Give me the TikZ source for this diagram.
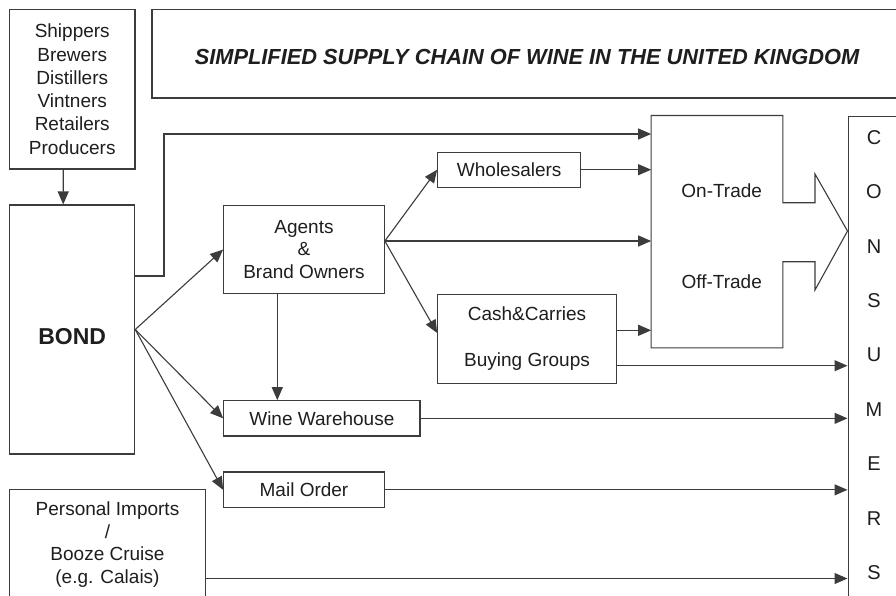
\documentclass[tikz,border=0pt]{standalone}
\usepackage{fontspec}
\setmainfont{Liberation Sans}
\usetikzlibrary{arrows.meta}
\definecolor{ln}{HTML}{3C3C3C}
\definecolor{tx}{HTML}{1E1E1E}
\tikzset{
  box/.style={draw=ln, line width=1.1pt, inner sep=0pt, text=tx, align=center, font=\fontsize{19}{23.3}\selectfont},
  plain/.style={inner sep=0pt, text=tx, align=center, font=\fontsize{19}{23.3}\selectfont},
  arr/.style={draw=ln, line width=1.1pt, -{Triangle[length=13pt,width=11pt]}},
  outline/.style={draw=ln, line width=1.1pt, line join=miter},
}
\begin{document}
\begin{tikzpicture}[x=1pt,y=-1pt]
\useasboundingbox (0,0) rectangle (896,595);
\fill[white] (0,0) rectangle (896,595);
\clip (0,0) rectangle (896,595);

% nodes
\node[box, minimum width=125.5pt, minimum height=159.5pt] (src) at (72.25,89.25)
  {Shippers\\Brewers\\Distillers\\Vintners\\Retailers\\Producers};
\node[box, minimum width=750pt, minimum height=88.5pt, font=\fontsize{21.8}{25}\selectfont\bfseries\itshape] (title) at (527,53.75)
  {\raisebox{-3pt}[\height][0pt]{SIMPLIFIED SUPPLY CHAIN OF WINE IN THE UNITED KINGDOM}};
\node[box, minimum width=125pt, minimum height=249pt, font=\fontsize{23}{27}\selectfont\bfseries] (bond) at (72.2,329.5)
  {\raisebox{-7pt}[\height][0pt]{BOND}};
\node[box, minimum width=160.6pt, minimum height=88.4pt, font=\fontsize{19}{22.3}\selectfont] (agents) at (304,249.5)
  {Agents\\\&\\Brand Owners};
\node[box, minimum width=143pt, minimum height=35.3pt] (whole) at (509.2,169.7) {Wholesalers};
\node[box, minimum width=178.6pt, minimum height=89.3pt, font=\fontsize{19}{45.7}\selectfont] (cash) at (527,338.7)
  {Cash\&Carries\\Buying Groups};
\node[inner sep=0pt, outer sep=0.55pt, minimum width=130.6pt, minimum height=231.3pt] (ot) at (717,231.65) {};
\node[plain] (ontrade) at (721.7,190.7) {On-Trade};
\node[plain] (offtrade) at (721.7,281.7) {Off-Trade};
\node[box, anchor=north west, minimum width=70pt, minimum height=500pt] (cons) at (847.5,116) {};
\node[plain, font=\fontsize{20}{54.4}\selectfont] (consword) at (874,355.1) {C\\O\\N\\S\\U\\M\\E\\R\\S};
\node[box, minimum width=196.3pt, minimum height=35.3pt] (wine) at (321.85,418.35) {Wine Warehouse};
\node[box, minimum width=160.6pt, minimum height=35.7pt] (mail) at (304,489.85) {Mail Order};
\node[box, minimum width=196.4pt, minimum height=110.7pt, font=\fontsize{19}{22.8}\selectfont] (pers) at (107.5,544.65)
  {Personal Imports\\/\\Booze Cruise\\(e.g. Calais)};

% On/Off-trade box outline joined with the hollow arrow
\coordinate (s1) at (815,202.7);
\coordinate (s2) at (815,261.7);
\coordinate (h1) at (815,174);
\coordinate (h2) at (815,290);
\coordinate (tip) at (847.5,231);
\draw[outline] (ot.north east) -- (ot.north west) -- (ot.south west) -- (ot.south east)
  -- (ot.east |- s2) -- (s2) -- (h2) -- (tip) -- (h1) -- (s1) -- (ot.east |- s1) -- cycle;

% coordinates for connectors
\coordinate (bj) at (164,276);
\coordinate (bt) at (164,134);
\coordinate (av) at (277.3,300);
\coordinate (af) at (384.3,241);
\coordinate (c1) at (620,330.3);
\coordinate (c2) at (620,365.7);
\coordinate (c3) at (300,578.5);
\coordinate (ct) at (437.7,333);

% connectors
\draw[arr] ([xshift=-9pt]src.south) -- ([xshift=-9pt]bond.north);
\draw[arr] (bond.east |- bj) -- (bj) -- (bt) -- (bt -| ot.west);
\draw[arr] (bond.east) -- (agents.west);
\draw[arr] (bond.east) -- (wine.west);
\draw[arr] (bond.east) -- (mail.west);
\draw[arr] (agents.south -| av) -- (wine.north -| av);
\draw[arr] (agents.east |- af) -- (whole.west);
\draw[arr] (agents.east |- af) -- (af -| ot.west);
\draw[arr] (agents.east |- af) -- (cash.west |- ct);
\draw[arr] (whole.east) -- (whole.east -| ot.west);
\draw[arr] (cash.east |- c1) -- (ot.west |- c1);
\draw[arr] (cash.east |- c2) -- (cons.west |- c2);
\draw[arr] (wine.east) -- (wine.east -| cons.west);
\draw[arr] (mail.east) -- (mail.east -| cons.west);
\draw[arr] (pers.east |- c3) -- (cons.west |- c3);
\end{tikzpicture}
\end{document}
